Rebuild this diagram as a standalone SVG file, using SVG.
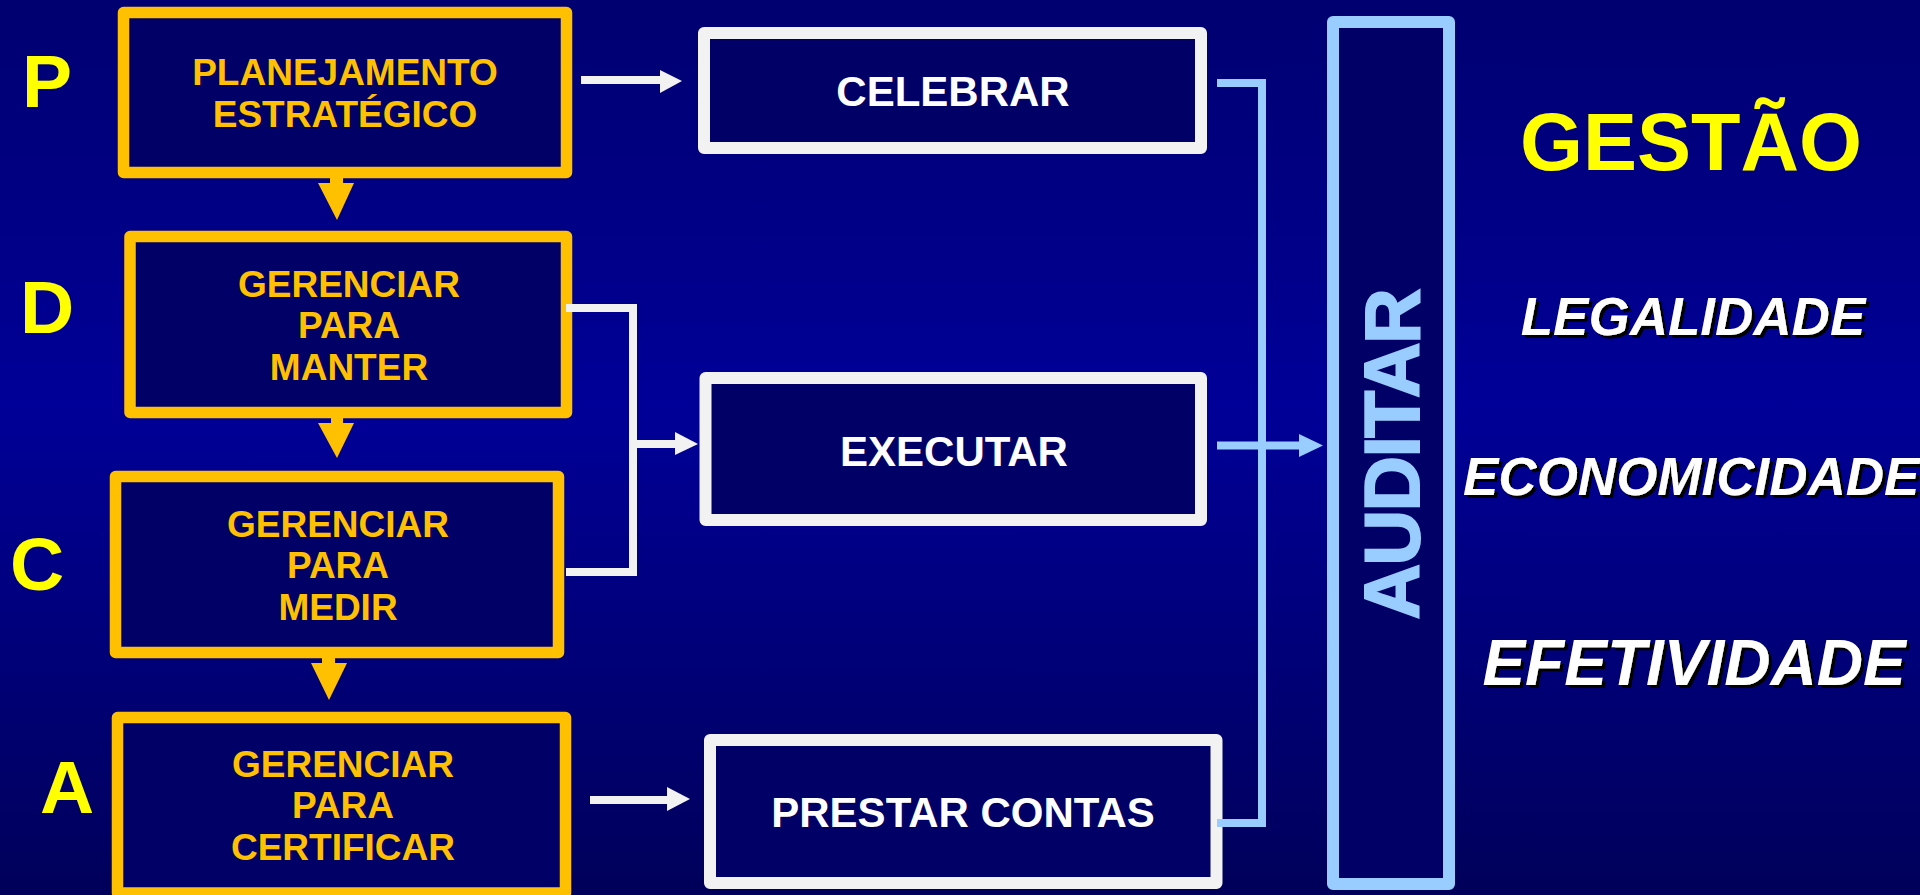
<svg xmlns="http://www.w3.org/2000/svg" width="1920" height="895" viewBox="0 0 1920 895">
<defs>
<linearGradient id="bg" x1="0" y1="0" x2="0" y2="1">
<stop offset="0" stop-color="#000070"/>
<stop offset="0.45" stop-color="#000098"/>
<stop offset="1" stop-color="#00005A"/>
</linearGradient>
<filter id="shadow" x="-5%" y="-20%" width="115%" height="150%">
<feOffset in="SourceAlpha" dx="3" dy="3" result="o"/>
<feFlood flood-color="#000000"/>
<feComposite in2="o" operator="in" result="s"/>
<feMerge><feMergeNode in="s"/><feMergeNode in="SourceGraphic"/></feMerge>
</filter>
</defs>
<style>
.ob{fill:#000066;stroke:#FFC000;stroke-width:11.5;stroke-linejoin:round}
.wb{fill:#000066;stroke:#F2F2F2;stroke-width:12;stroke-linejoin:round}
.bb{fill:#000066;stroke:#99CCFF;stroke-width:12;stroke-linejoin:round}
.ot{font-family:"Liberation Sans",Arial,sans-serif;font-weight:bold;font-size:37px;fill:#FFC000;text-anchor:middle}
.wt{font-family:"Liberation Sans",Arial,sans-serif;font-weight:bold;font-size:42px;fill:#FFFFFF;text-anchor:middle}
.lt{font-family:"Liberation Sans",Arial,sans-serif;font-weight:bold;font-size:75px;fill:#FFFF00}
.at{font-family:"Liberation Sans",Arial,sans-serif;font-weight:700;font-size:77px;fill:#99CCFF;stroke:#99CCFF;stroke-width:2;text-anchor:middle}
.gt{font-family:"Liberation Sans",Arial,sans-serif;font-weight:bold;font-size:81px;fill:#FFFF00;text-anchor:middle}
.it{font-family:"Liberation Sans",Arial,sans-serif;font-weight:bold;font-style:italic;fill:#FFFFFF;filter:url(#shadow)}
.wl{fill:none;stroke:#F2F2F2;stroke-width:8}
.bl{fill:none;stroke:#99CCFF;stroke-width:8}
</style>
<rect x="0" y="0" width="1920" height="895" fill="url(#bg)"/>

<g id="letters">
<text class="lt" x="22" y="107">P</text>
<text class="lt" x="20" y="333">D</text>
<text class="lt" x="10" y="590">C</text>
<text class="lt" x="40" y="813">A</text>
</g>

<g id="node-planejamento">
<rect class="ob" x="123.5" y="12.5" width="443" height="160"/>
<text class="ot" x="345" y="85">PLANEJAMENTO</text>
<text class="ot" x="345" y="127">ESTRATÉGICO</text>
</g>
<g id="node-manter">
<rect class="ob" x="130" y="236.5" width="436.5" height="176"/>
<text class="ot" x="349" y="297">GERENCIAR</text>
<text class="ot" x="349" y="338">PARA</text>
<text class="ot" x="349" y="380">MANTER</text>
</g>
<g id="node-medir">
<rect class="ob" x="115.5" y="476.5" width="443" height="176"/>
<text class="ot" x="338" y="537">GERENCIAR</text>
<text class="ot" x="338" y="578">PARA</text>
<text class="ot" x="338" y="620">MEDIR</text>
</g>
<g id="node-certificar">
<rect class="ob" x="117.5" y="717.5" width="448" height="175.5"/>
<text class="ot" x="343" y="777">GERENCIAR</text>
<text class="ot" x="343" y="818">PARA</text>
<text class="ot" x="343" y="860">CERTIFICAR</text>
</g>

<g id="node-celebrar">
<rect class="wb" x="704" y="33" width="497" height="115"/>
<text class="wt" x="953" y="106">CELEBRAR</text>
</g>
<g id="node-executar">
<rect class="wb" x="705.5" y="378" width="495.5" height="142"/>
<text class="wt" x="954" y="466">EXECUTAR</text>
</g>
<g id="node-prestar">
<rect class="wb" x="710" y="740" width="506.5" height="143"/>
<text class="wt" x="963" y="827">PRESTAR CONTAS</text>
</g>

<g id="node-auditar">
<rect class="bb" x="1333" y="22" width="116" height="862"/>
<text class="at" transform="translate(1419,454) rotate(-90)" x="0" y="0" textLength="331" lengthAdjust="spacing">AUDITAR</text>
</g>

<g id="node-gestao">
<text class="gt" x="1691" y="170">GESTÃO</text>
<text class="it" x="1693" y="335" text-anchor="middle" font-size="53">LEGALIDADE</text>
<text class="it" x="1463" y="495" font-size="53">ECONOMICIDADE</text>
<text class="it" x="1694" y="685" text-anchor="middle" font-size="64">EFETIVIDADE</text>
</g>

<g id="connectors">
<g fill="#FFC000">
<path d="M330,177 H343 V183 H354 L337,220 L318,183 H330 Z"/>
<path d="M331,417 H343 V423 H354 L337,458 L318,423 H331 Z"/>
<path d="M322,657 H335 V663 H347 L329,700 L311,663 H322 Z"/>
</g>
<path class="wl" d="M581,80 H662"/>
<path d="M660,70 L682,81 L660,93 Z" fill="#F2F2F2"/>
<path class="wl" d="M566,308 H633 V572 H566"/>
<path class="wl" d="M633,444 H677"/>
<path d="M675,432 L698,444 L675,455 Z" fill="#F2F2F2"/>
<path class="wl" d="M590,800 H669"/>
<path d="M667,787 L690,799 L667,811 Z" fill="#F2F2F2"/>
<path class="bl" d="M1217,83 H1262 V823 H1217"/>
<path class="bl" d="M1217,445.5 H1301"/>
<path d="M1299,434 L1323,445.5 L1299,457 Z" fill="#99CCFF"/>
</g>
</svg>
